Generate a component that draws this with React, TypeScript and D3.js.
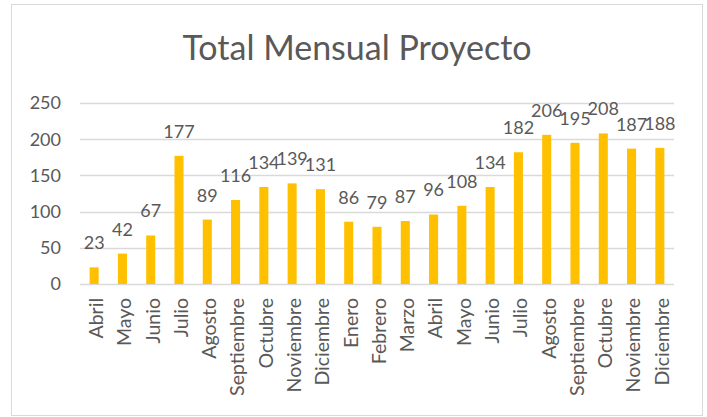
import React, { useRef, useEffect } from 'react';
import * as d3 from 'd3';

// months shown on the x axis (Abril of one year through Diciembre of the next)
const months = [
  'Abril', 'Mayo', 'Junio', 'Julio', 'Agosto', 'Septiembre', 'Octubre', 'Noviembre', 'Diciembre',
  'Enero', 'Febrero', 'Marzo', 'Abril', 'Mayo', 'Junio', 'Julio', 'Agosto', 'Septiembre',
  'Octubre', 'Noviembre', 'Diciembre',
];
const totals = [23, 42, 67, 177, 89, 116, 134, 139, 131, 86, 79, 87, 96, 108, 134, 182, 206, 195, 208, 187, 188];
const yTicks = [0, 50, 100, 150, 200, 250];
const title = 'Total Mensual Proyecto';

const W = 707;
const H = 417;
const FONT = 'Lato, Carlito, Calibri, "Open Sans", sans-serif';
const TEXT = '#595959';
const GRID = '#D9D9D9';
const BAR = '#FFC000';

const App = () => {
  const svgRef = useRef<SVGSVGElement>(null);

  useEffect(() => {
    const svg = d3.select(svgRef.current);
    svg.selectAll('*').remove();

    const margin = { top: 103, right: 33, bottom: 133, left: 80 };
    const innerW = W - margin.left - margin.right;
    const innerH = H - margin.top - margin.bottom;

    // chart frame
    svg.append('rect')
      .attr('x', 11.5).attr('y', 4.5)
      .attr('width', 691).attr('height', 411)
      .attr('fill', '#fff')
      .attr('stroke', GRID)
      .attr('stroke-width', 1);

    // title
    svg.append('text')
      .attr('x', 357).attr('y', 60)
      .attr('text-anchor', 'middle')
      .attr('font-family', FONT)
      .attr('font-size', 34)
      .attr('fill', TEXT)
      .text(title);

    const g = svg.append('g').attr('transform', `translate(${margin.left},${margin.top})`);

    const x = d3.scaleBand<number>()
      .domain(months.map((_, i) => i))
      .range([0, innerW])
      .paddingInner(0.68)
      .paddingOuter(0.34);

    const y = d3.scaleLinear().domain([0, 250]).range([innerH, 0]);

    // gridlines
    g.selectAll('line.grid')
      .data(yTicks)
      .join('line')
      .attr('class', 'grid')
      .attr('x1', 0).attr('x2', innerW)
      .attr('y1', d => Math.round(y(d)) + 0.5)
      .attr('y2', d => Math.round(y(d)) + 0.5)
      .attr('stroke', GRID)
      .attr('stroke-width', 1.3);

    // y tick labels
    g.selectAll('text.ytick')
      .data(yTicks)
      .join('text')
      .attr('class', 'ytick')
      .attr('x', -19)
      .attr('y', d => y(d))
      .attr('dy', '0.35em')
      .attr('text-anchor', 'end')
      .attr('font-family', FONT)
      .attr('font-size', 18)
      .attr('fill', TEXT)
      .text(d => d);

    // bars
    g.selectAll('rect.bar')
      .data(totals)
      .join('rect')
      .attr('class', 'bar')
      .attr('x', (_, i) => x(i)!)
      .attr('width', x.bandwidth())
      .attr('y', d => y(d))
      .attr('height', d => innerH - y(d))
      .attr('fill', BAR);

    // data labels
    g.selectAll('text.val')
      .data(totals)
      .join('text')
      .attr('class', 'val')
      .attr('x', (_, i) => x(i)! + x.bandwidth() / 2)
      .attr('y', d => y(d) - 18)
      .attr('text-anchor', 'middle')
      .attr('font-family', FONT)
      .attr('font-size', 18)
      .attr('fill', TEXT)
      .text(d => d);

    // x labels, rotated
    g.selectAll('text.xtick')
      .data(months)
      .join('text')
      .attr('class', 'xtick')
      .attr('transform', (_, i) => `translate(${x(i)! + x.bandwidth() / 2 + 2},${innerH + 14}) rotate(-90)`)
      .attr('dy', '0.35em')
      .attr('text-anchor', 'end')
      .attr('font-family', FONT)
      .attr('font-size', 19.5)
      .attr('fill', TEXT)
      .text(d => d);
  }, []);

  return (
    <svg ref={svgRef} width={W} height={H} style={{ position: 'absolute', left: 0, top: 0 }} />
  );
};

export default App;
